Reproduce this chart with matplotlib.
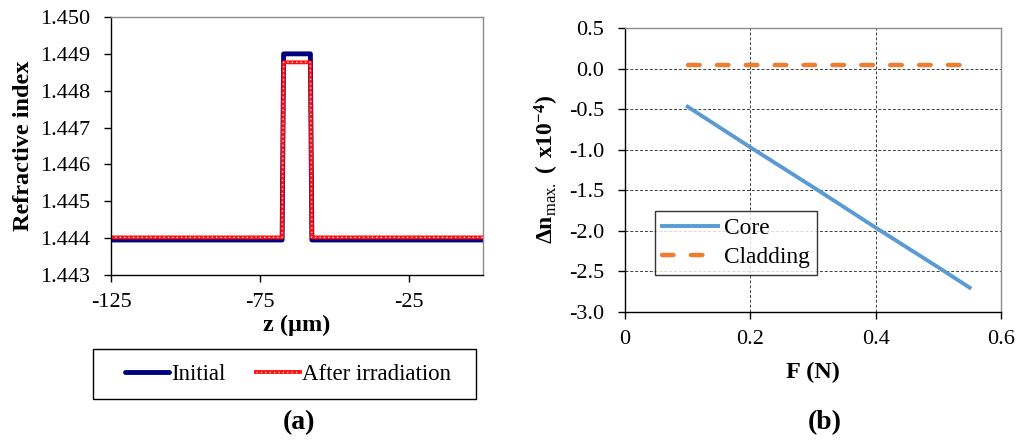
import matplotlib
matplotlib.use("Agg")
import matplotlib.pyplot as plt
from matplotlib.patches import Rectangle

plt.rcParams["font.family"] = ["Liberation Serif", "DejaVu Serif"]
plt.rcParams["mathtext.fontset"] = "custom"
plt.rcParams["mathtext.rm"] = "Liberation Serif"
plt.rcParams["mathtext.bf"] = "Liberation Serif:bold"
plt.rcParams["axes.unicode_minus"] = False

# (a) refractive index profile
z_um = [-125, -67.5, -67, -58, -57.5, 0]
n_initial = [1.44395, 1.44395, 1.44900, 1.44900, 1.44395, 1.44395]
n_after = [1.44402, 1.44402, 1.44877, 1.44877, 1.44402, 1.44402]
z_ticks = [-125, -75, -25]
n_ticks = [1.443, 1.444, 1.445, 1.446, 1.447, 1.448, 1.449, 1.450]

# (b) index change vs force
force_n = [0.1, 0.2, 0.3, 0.4, 0.5, 0.55]
dn_core = [-0.47, -0.97, -1.46, -1.96, -2.45, -2.70]
dn_cladding = [0.04, 0.04, 0.04, 0.04, 0.04, 0.04]
f_ticks = [0, 0.2, 0.4, 0.6]
f_labels = ["0", "0.2", "0.4", "0.6"]
dn_ticks = [-3.0, -2.5, -2.0, -1.5, -1.0, -0.5, 0.0, 0.5]

W, H = 1024, 447
fig = plt.figure(figsize=(W / 100, H / 100), dpi=100)
ax1 = fig.add_axes([111 / W, 1 - 275 / H, 372 / W, 258 / H])
ax2 = fig.add_axes([625 / W, 1 - 312 / H, 376 / W, 284 / H])


def style_axes(ax):
    for side in ["top", "right"]:
        ax.spines[side].set_color("#8c8c8c")
    for side in ["left", "bottom"]:
        ax.spines[side].set_color("black")
    for sp in ax.spines.values():
        sp.set_linewidth(1.0)
    ax.tick_params(direction="out", length=5, width=1, labelsize=16)
    ax.tick_params(axis="y", pad=10)
    ax.tick_params(axis="x", pad=8)


# --- panel (a)
l_init, = ax1.plot(z_um, n_initial, color="#00007f", lw=3.5, solid_capstyle="round",
                   solid_joinstyle="round")
l_red, = ax1.plot(z_um, n_after, color="#ff1010", lw=2.8)
l_dot, = ax1.plot(z_um, n_after, color="white", lw=0.9, ls=(0, (1, 2.5)))
ax1.set_xlim(-125, 0)
ax1.set_ylim(1.443, 1.450)
ax1.set_xticks(z_ticks)
ax1.set_yticks(n_ticks)
ax1.set_yticklabels([f"{v:.3f}" for v in n_ticks])
style_axes(ax1)
ax1.set_xlabel("z (µm)", fontsize=17.5, fontweight="bold", labelpad=2)
ax1.set_ylabel("Refractive index", fontsize=17.5, fontweight="bold", labelpad=4)

# legend box of (a) is wider than its content, so draw the frame by hand
fig.patches.append(Rectangle((93 / W, 1 - 399 / H), 383 / W, 50 / H,
                             transform=fig.transFigure, fill=False,
                             edgecolor="black", lw=1.0))
ax1.legend([l_init, (l_red, l_dot)], ["Initial", "After irradiation"], ncol=2,
           loc="center", bbox_to_anchor=(288 / W, 1 - 374 / H),
           bbox_transform=fig.transFigure, frameon=False,
           fontsize=16.5, handlelength=1.9, handletextpad=0.1,
           columnspacing=1.35, borderpad=0.0)
fig.text(299 / W, 1 - 423 / H, "(a)", ha="center", va="center",
         fontsize=20, fontweight="bold")

# --- panel (b)
ax2.grid(True, color="#404040", ls=(0, (3, 2)), lw=0.7)
ax2.set_axisbelow(True)
ax2.plot(force_n, dn_core, color="#5b9bd5", lw=2.8, label="Core")
ax2.plot(force_n, dn_cladding, color="#ed7d31", lw=3.2, ls=(0, (2.6, 3.9)),
         dash_capstyle="round", label="Cladding")
ax2.set_xlim(0, 0.6)
ax2.set_ylim(-3.0, 0.5)
ax2.set_xticks(f_ticks)
ax2.set_xticklabels(f_labels)
ax2.set_yticks(dn_ticks)
ax2.set_yticklabels([f"{v:.1f}" for v in dn_ticks])
style_axes(ax2)
ax2.tick_params(axis="x", pad=8)
ax2.set_xlabel("F (N)", fontsize=17.5, fontweight="bold", labelpad=9)
ax2.set_ylabel(r"$\mathbf{\Delta n}_{\mathrm{max.}}$ $\mathbf{(\ x10^{-4})}$",
               fontsize=17, labelpad=6)
leg2 = ax2.legend(loc="center", bbox_to_anchor=(736 / W, 1 - 243 / H),
                  bbox_transform=fig.transFigure, frameon=True, fancybox=False,
                  edgecolor="black", fontsize=16.8, handlelength=2.4,
                  handletextpad=0.25, borderpad=0.3, labelspacing=0.33)
leg2.get_frame().set_linewidth(1.0)
fig.text(825 / W, 1 - 423 / H, "(b)", ha="center", va="center",
         fontsize=20, fontweight="bold")

fig.savefig("out.png", dpi=100)
